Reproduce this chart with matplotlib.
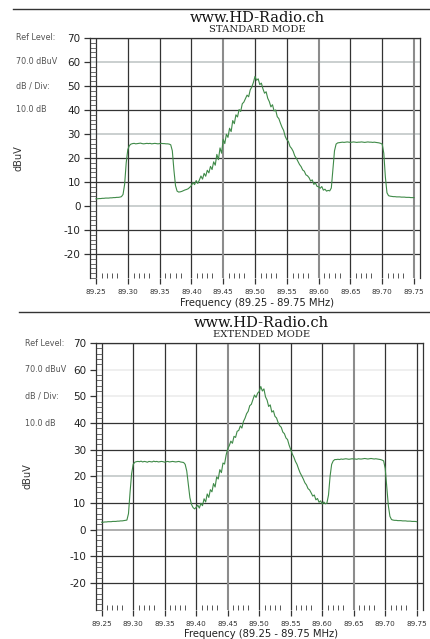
import matplotlib
matplotlib.use("Agg")
import matplotlib.pyplot as plt
import matplotlib.transforms as mtransforms
import numpy as np

plt.rcParams["axes.unicode_minus"] = False

# analyzer sweep 89.25 - 89.75 MHz, 201 points (2.5 kHz step)
f_start = 89.25
f_stop = 89.75

std_db = [
    3.0, 3.0, 3.1, 3.1, 3.2, 3.2, 3.3, 3.3, 3.3, 3.4, 3.4, 3.5, 3.5, 3.6, 3.6, 3.7, 3.9,
    4.8, 9.0, 18.0, 23.5, 25.2, 25.8,
    26.0, 26.1, 25.9, 26.0, 26.1, 26.2, 26.0, 25.9, 26.0, 26.1, 26.0, 26.1,
    25.9, 26.0, 26.1, 26.0, 25.9, 26.0, 26.1, 26.0, 26.0, 25.9, 25.9, 25.8,
    25.5, 23.0, 15.0, 8.5, 6.2, 5.8, 5.9, 6.1, 6.4, 6.7, 6.9, 7.2, 7.8, 8.5,
    9.8, 8.9, 10.6, 9.4, 10.8, 12.5, 11.2, 13.6, 12.4, 14.9,
    13.8, 16.5, 15.2, 18.4, 17.0, 21.5, 19.3, 24.2, 22.0, 27.8,
    26.0, 29.9, 28.6, 32.4, 31.0, 35.6, 34.3, 38.0, 37.1, 40.2,
    39.4, 42.6, 43.3, 44.8, 46.2, 45.5, 48.4, 49.6, 51.5, 54.0,
    52.4, 53.0, 50.6, 51.2, 48.8, 47.0, 47.6, 44.9, 43.5, 41.3,
    42.2, 39.6, 40.0, 37.2, 36.4, 34.5, 32.8, 31.5, 29.0, 27.6,
    26.9, 24.8, 24.0, 22.8, 20.9, 19.9, 18.6, 17.3, 16.4, 15.0,
    14.5, 13.0, 12.6, 11.8, 10.4, 10.9, 9.0, 9.6, 8.2, 8.0,
    7.4, 8.1, 6.6, 7.0, 6.2, 6.5, 6.3, 7.5, 15.0, 23.0,
    25.8, 26.3,
    26.4, 26.5, 26.6, 26.5, 26.6, 26.7, 26.6, 26.5, 26.6, 26.7,
    26.6, 26.5, 26.6, 26.6, 26.7, 26.6, 26.5, 26.6, 26.7, 26.6,
    26.6, 26.5, 26.6, 26.5, 26.4, 26.3, 26.1,
    25.8, 22.0, 12.0, 5.5, 4.3,
    4.1, 4.0, 3.9, 3.9, 3.8, 3.8, 3.8, 3.7, 3.7, 3.7, 3.6, 3.6, 3.6, 3.5, 3.5, 3.5,
]

ext_db = [
    2.8, 2.8, 2.9, 2.9, 3.0, 3.0, 3.0, 3.1, 3.1, 3.1, 3.2, 3.2, 3.3, 3.3, 3.4, 3.5, 3.6,
    6.0, 14.0, 21.0, 24.5, 25.3, 25.5,
    25.6, 25.5, 25.7, 25.4, 25.6, 25.5, 25.3, 25.6, 25.5, 25.4,
    25.7, 25.5, 25.6, 25.4, 25.5, 25.6, 25.5, 25.3, 25.5, 25.6,
    25.4, 25.5, 25.6, 25.5, 25.4, 25.5, 25.6, 25.4, 25.3, 25.2,
    24.5, 22.0, 17.0, 12.0, 9.5, 8.3, 7.8, 8.4,
    9.2, 8.1, 9.9, 9.0, 11.6, 10.4, 13.4, 12.1, 15.0, 14.2,
    17.3, 16.0, 19.8, 19.0, 22.5, 21.4, 25.0, 24.6, 28.0, 30.3,
    31.5, 33.2, 32.4, 35.0, 34.6, 36.9, 37.2, 38.9, 38.1, 40.6,
    41.8, 43.5, 44.4, 46.5, 47.0, 48.7, 50.5, 49.6, 51.2, 51.8,
    53.7, 52.0, 52.8, 49.8, 48.6, 46.2, 46.8, 44.1, 44.6, 42.5,
    41.9, 40.2, 39.0, 38.4, 36.6, 36.0, 34.4, 33.8, 31.7, 30.0,
    28.4, 27.2, 25.6, 24.5, 22.8, 21.3, 20.2, 19.0, 17.6, 16.8,
    15.4, 14.9, 13.8, 12.6, 13.0, 11.2, 11.7, 10.3, 10.8, 9.6,
    10.4, 9.7, 10.0, 13.0, 20.0, 24.5, 25.8, 26.3,
    26.3, 26.4, 26.3, 26.5, 26.4, 26.5, 26.6, 26.5, 26.4, 26.5,
    26.6, 26.5, 26.5, 26.4, 26.6, 26.5, 26.5, 26.6, 26.7, 26.6,
    26.5, 26.6, 26.7, 26.6, 26.5, 26.6, 26.5, 26.4, 26.3, 26.1,
    25.8, 23.0, 16.0, 9.0, 5.0, 3.8,
    3.6, 3.5, 3.5, 3.4, 3.4, 3.4, 3.3, 3.3, 3.3, 3.2, 3.2, 3.2, 3.1, 3.1, 3.1, 3.0,
]

y_ticks = [70, 60, 50, 40, 30, 20, 10, 0, -10, -20]
x_ticks = [89.25, 89.30, 89.35, 89.40, 89.45, 89.50, 89.55, 89.60, 89.65, 89.70, 89.75]
x_labels = ["89.25", "89.30", "89.35", "89.40", "89.45", "89.50",
            "89.55", "89.60", "89.65", "89.70", "89.75"]
info_text = ["Ref Level:", "70.0 dBuV", "dB / Div:", "10.0 dB"]
info_level = [70, 60, 50, 40]
site = "www.HD-Radio.ch"
xlabel = "Frequency (89.25 - 89.75 MHz)"

W, H = 431, 639
fig = plt.figure(figsize=(W / 100, H / 100), dpi=100)

DARK = "#333333"
GRAY = "#8c8c8c"
PALE = "#c6cccc"
FAINT = "#eeeeee"


def panel(db, mode, box, rule, title_y, info_x, ylab_x, xlab_y, row_style, col_gray):
    left, right, top, bottom = box
    ax = fig.add_axes([left / W, 1 - bottom / H, (right - left) / W, (bottom - top) / H])
    pad = 0.5 * 6 / (right - left - 12)
    ax.set_xlim(f_start - pad, f_stop + pad)
    ax.set_ylim(-30, 70)

    for y in y_ticks:
        c = row_style.get(y, DARK)
        ax.axhline(y, color=c, lw=1.3 if c != DARK else 0.9, zorder=1)
    for x in x_ticks:
        if x in col_gray:
            ax.axvline(x, color=GRAY, lw=1.5, zorder=1)
        else:
            ax.axvline(x, color=DARK, lw=0.9, zorder=1)

    freqs = np.linspace(f_start, f_stop, len(db))
    ax.plot(freqs, db, color="#3f8a48", lw=0.8, zorder=3)

    ax.set_yticks(y_ticks)
    ax.set_yticks(np.arange(-30, 70, 2), minor=True)
    ax.set_xticks(x_ticks)
    ax.set_xticklabels(x_labels)
    minor = [x + d for x in x_ticks[:-1] for d in (0.009, 0.017, 0.025, 0.033)]
    ax.set_xticks(minor, minor=True)

    ax.tick_params(axis="y", which="major", direction="out", length=4.3, width=0.9,
                   color=DARK, labelsize=7.5, labelcolor="#222222", pad=2.5)
    ax.tick_params(axis="y", which="minor", direction="in", length=4.3, width=0.6,
                   color="#555555")
    ax.tick_params(axis="x", which="major", direction="out", length=4.3, width=0.9,
                   color=DARK, labelsize=5.2, labelcolor="#333333", pad=3.5)
    ax.tick_params(axis="x", which="minor", direction="in", length=3.6, width=0.7,
                   color="#555555")

    ax.spines["bottom"].set_visible(False)
    for s in ("left", "right", "top"):
        ax.spines[s].set_color(DARK)
        ax.spines[s].set_linewidth(0.9)

    # header rule and titles
    ry, rx0 = rule
    fig.add_artist(plt.Line2D([rx0 / W, 430 / W], [1 - ry / H, 1 - ry / H],
                              color=DARK, lw=1.0))
    cx = (left + right) / 2 + 2
    fig.text(cx / W, 1 - title_y / H, site, ha="center", va="baseline",
             family="DejaVu Serif", fontsize=10.5, color="#111111")
    fig.text(cx / W, 1 - (title_y + 10.5) / H, mode, ha="center", va="baseline",
             family="DejaVu Serif", fontsize=7.2, color="#222222")

    tr = mtransforms.blended_transform_factory(fig.transFigure, ax.transData)
    for txt, lvl in zip(info_text, info_level):
        ax.text(info_x / W, lvl, txt, transform=tr, ha="left", va="center",
                fontsize=5.8, color="#555555")

    fig.text(ylab_x / W, 1 - (top + bottom) / 2 / H, "dBuV", rotation=90,
             ha="center", va="center", fontsize=7, color="#333333")
    fig.text((left + right) / 2 / W + 0.005, 1 - xlab_y / H, xlabel, ha="center",
             va="center", fontsize=7.2, color="#222222")
    return ax


panel(std_db, "STANDARD MODE", (90, 420, 38, 278), (9, 13), 22, 16, 19, 303,
      {60: PALE, 30: PALE, 0: PALE}, [89.45, 89.60, 89.75])
panel(ext_db, "EXTENDED MODE", (95.7, 422.7, 343, 609.7), (311.7, 19), 326.5, 25, 28, 634,
      {60: FAINT, 50: FAINT, 20: PALE, 0: "#a8a8a8"}, [89.45, 89.65])

fig.savefig("out.png", dpi=100)
